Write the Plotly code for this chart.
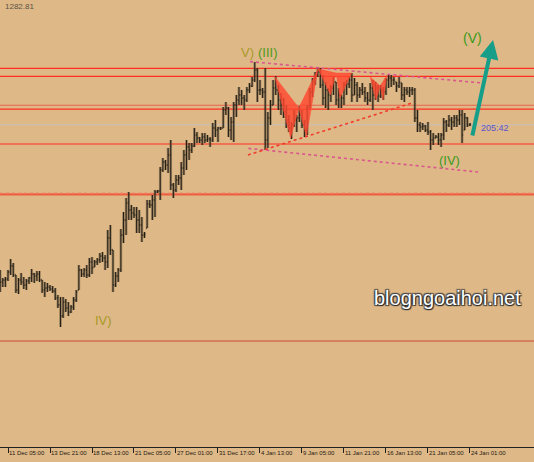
import plotly.graph_objects as go

# ---------------- data (XAUUSD H4) ----------------
highs = [
    1246.5, 1244.5, 1244.75, 1246.5, 1249.25, 1248.25, 1245.25, 1244.5, 1245.75, 1244.75,
    1244.25, 1244.75, 1246.75, 1245.75, 1246.25, 1246.25, 1244, 1243.5, 1243.25, 1242.75,
    1242.5, 1242, 1240.25, 1239.75, 1239.75, 1239.25, 1238.5, 1237.75, 1239.75, 1241.5,
    1247.75, 1246.75, 1247, 1247.75, 1249.5, 1249.75, 1249, 1249.5, 1250.75, 1251,
    1250.25, 1256.5, 1257.75, 1251.5, 1246, 1247, 1256.75, 1261, 1264.5, 1266,
    1262.75, 1262.25, 1262.25, 1261.5, 1259.75, 1256, 1264, 1264, 1265.25, 1266.5,
    1266.5, 1272.25, 1274.5, 1274, 1277, 1279, 1268.25, 1270.25, 1270.25, 1273.5,
    1276.5, 1279, 1278.25, 1278.25, 1282, 1281, 1279.75, 1280.75, 1280.75, 1280.25,
    1279.75, 1283.25, 1284, 1282.25, 1282.25, 1287.25, 1288.5, 1287.25, 1284.75, 1288.5,
    1290.25, 1292.25, 1291.5, 1290.25, 1292.25, 1293.25, 1294.75, 1298.5, 1297, 1294,
    1292, 1297, 1286, 1289, 1294, 1295, 1292.75, 1290.75, 1289.5, 1287.75,
    1285.25, 1283.5, 1286.5, 1285.25, 1287.5, 1286.5, 1284, 1287.75, 1292, 1294.5,
    1296, 1297.25, 1297, 1295.25, 1293.5, 1292, 1292.75, 1294.75, 1293.5, 1292,
    1290.25, 1293.5, 1294, 1294.75, 1295.75, 1294.5, 1293.5, 1292.25, 1293.25, 1292.25,
    1291, 1293.25, 1294, 1293.5, 1292.75, 1292.75, 1292.25, 1294.5, 1295.25, 1295.25,
    1294.75, 1293.5, 1294.75, 1293.25, 1292.25, 1292.25, 1292.25, 1292.25, 1292, 1286.5,
    1283.5, 1283.25, 1282.75, 1283.5, 1281.5, 1280.75, 1280.25, 1280.75, 1280.75, 1284.5,
    1284, 1285.25, 1284.75, 1285.25, 1285.25, 1286.5, 1286.5, 1285.75, 1284.75, 1283.25,
]
lows = [
    1241, 1242.25, 1242.25, 1243.75, 1245.25, 1244.75, 1240.75, 1240.5, 1242.75, 1241.75,
    1241.5, 1243, 1243.5, 1243.25, 1243.75, 1243.5, 1240.75, 1239.75, 1241, 1241.25,
    1240.75, 1239, 1237, 1232.25, 1234.5, 1236, 1235, 1235.75, 1236.5, 1238.5,
    1241.5, 1244.75, 1244.75, 1244.5, 1244.75, 1245.5, 1247.25, 1247.75, 1248.25, 1248.5,
    1246.5, 1247, 1250.25, 1241, 1242.25, 1243.5, 1246, 1253.25, 1255.25, 1259,
    1259, 1259.5, 1255.75, 1255.75, 1253.5, 1254.5, 1257, 1262, 1259, 1259.75,
    1265.75, 1264, 1271, 1271.5, 1270.75, 1266.5, 1264.5, 1266, 1267.75, 1266.5,
    1270.25, 1271.5, 1274, 1275.75, 1277.25, 1278.25, 1278.25, 1277.75, 1278.25, 1278.5,
    1277.25, 1278.5, 1279.75, 1278.5, 1281.5, 1282, 1285.25, 1279.75, 1279, 1278.5,
    1284.75, 1287.75, 1287.75, 1286.5, 1288.5, 1290.75, 1292.25, 1293.5, 1288.5, 1290.25,
    1289.5, 1276.5, 1277, 1282.75, 1287.75, 1290.25, 1286.5, 1285.25, 1284.5, 1282,
    1281, 1279.25, 1282.25, 1281, 1283.5, 1282, 1279.75, 1280.25, 1287, 1289.75,
    1292.75, 1294.75, 1292, 1287.75, 1287, 1286.5, 1288.5, 1290.25, 1287.75, 1287,
    1287, 1287.75, 1290.25, 1292, 1288.5, 1290.25, 1288.5, 1289.5, 1290.25, 1288.5,
    1287.75, 1288.5, 1286.5, 1289, 1288.5, 1289.5, 1289, 1290.25, 1292, 1292.25,
    1292.75, 1291, 1292, 1289, 1288.5, 1290.25, 1289.75, 1290.25, 1283.5, 1281,
    1281, 1281.5, 1281, 1280.25, 1276.5, 1277.75, 1279.5, 1277.75, 1277.25, 1279,
    1281, 1282.25, 1281.5, 1282.25, 1282.25, 1282.75, 1278.25, 1281.5, 1282.25, 1282.5,
]
closes = [
    1243.5, 1244, 1244.25, 1246, 1247.5, 1245.25, 1241.5, 1244, 1243.5, 1242.75,
    1243.75, 1244.5, 1245.5, 1245, 1245.5, 1244, 1241.5, 1242, 1242.25, 1241.75,
    1241.25, 1239.5, 1237.75, 1235, 1238.5, 1237, 1236, 1237.25, 1239, 1241,
    1246.5, 1245.5, 1246.5, 1245.25, 1248.5, 1247, 1248.5, 1249, 1250, 1249.5,
    1248.5, 1254.5, 1251.5, 1242.75, 1245, 1246.5, 1255.25, 1259, 1263.25, 1261.5,
    1260.75, 1260.25, 1259, 1257.75, 1255.25, 1255.5, 1263, 1262.75, 1264, 1266,
    1266.25, 1271.5, 1273.5, 1272.75, 1275.25, 1267.75, 1266.5, 1269, 1269.5, 1272,
    1275.25, 1277.25, 1276.5, 1277.5, 1280.25, 1279.5, 1279, 1279.75, 1279, 1279.25,
    1279, 1282, 1281.5, 1282, 1282, 1286.5, 1287, 1281.5, 1283.5, 1287.75,
    1289, 1290.25, 1289.5, 1289, 1291.5, 1292.5, 1294, 1296.5, 1291.5, 1291.5,
    1291, 1279, 1284.5, 1287.75, 1292, 1291.5, 1289, 1287.75, 1286, 1284,
    1282, 1282.75, 1284, 1284.5, 1285.25, 1282.75, 1281.5, 1287, 1291, 1293.5,
    1295.25, 1296, 1292.75, 1289.5, 1291.5, 1290.25, 1292, 1293.5, 1289, 1290.25,
    1289.5, 1292.75, 1293, 1294, 1290.25, 1292.75, 1290.25, 1291.5, 1291, 1289.5,
    1289, 1292, 1290.25, 1292, 1290, 1291.5, 1291, 1294, 1294.5, 1294,
    1294, 1292.5, 1293.5, 1290.25, 1291.5, 1291, 1291.5, 1291.5, 1284.5, 1282.75,
    1282.25, 1282.5, 1281.5, 1281, 1279, 1279.5, 1279.75, 1279, 1280.25, 1283.5,
    1282.75, 1284, 1283.5, 1284.5, 1284, 1285.25, 1280.25, 1284.5, 1282.75, 1282.81,
]
first_open = 1244.0

tick_bars = [3, 19, 35, 51, 67, 83, 99, 115, 131, 147, 163, 179]
tick_labels = ["11 Dec 05:00", "13 Dec 21:00", "18 Dec 13:00", "21 Dec 05:00",
               "27 Dec 01:00", "31 Dec 17:00", "4 Jan 13:00", "9 Jan 05:00",
               "11 Jan 21:00", "16 Jan 13:00", "21 Jan 05:00", "24 Jan 01:00"]

bid_price = 1282.81
red_levels = [1296.9, 1294.9, 1286.7, 1278.0]
light_red_level = 1287.7
thick_level = 1265.4
low_level = 1228.75

# trend lines: (bar, price) pairs
upper_channel = [(95.2, 1298.6), (183.6, 1293.25)]
lower_channel = [(94.6, 1276.9), (182.1, 1271.0)]
rising_line = [(94.4, 1275.25), (156.9, 1288.25)]

# harmonic patterns: X, A, B, C, D points (bar, price)
patterns = [
    [(104.6, 1294.9), (110.7, 1279.5), (113.8, 1287.0), (116.7, 1279.9), (121.1, 1296.8)],
    [(121.1, 1296.8), (125.9, 1290.25), (128.0, 1295.75), (129.5, 1289.5), (133.9, 1295.75)],
    [(141.0, 1294.75), (143.2, 1289.0), (144.8, 1292.5), (145.9, 1289.0), (147.4, 1295.25)],
]

# wave arrow (tail -> tip)
arrow_tail = (179.8, 1279.75)
arrow_tip = (187.8, 1304.0)

# ---------------- figure ----------------
bars = list(range(len(closes)))
opens = [first_open] + [min(max(closes[i - 1], lows[i]), highs[i]) for i in range(1, len(closes))]

fig = go.Figure()

# harmonic pattern triangles
for p in patterns:
    X, A, B, C, D = p
    for tri in ([X, A, B], [B, C, D]):
        fig.add_trace(go.Scatter(
            x=[q[0] for q in tri] + [tri[0][0]],
            y=[q[1] for q in tri] + [tri[0][1]],
            mode="lines", fill="toself",
            fillcolor="rgba(255,72,48,0.82)",
            line=dict(color="rgba(255,72,48,0.9)", width=0.5),
            hoverinfo="skip", showlegend=False))

# bar shadow + bars
fig.add_trace(go.Ohlc(
    x=bars, open=opens, high=highs, low=lows, close=closes,
    increasing=dict(line=dict(color="rgba(100,86,62,0.55)", width=2.6)),
    decreasing=dict(line=dict(color="rgba(100,86,62,0.55)", width=2.6)),
    tickwidth=0.45, showlegend=False, hoverinfo="skip"))
fig.add_trace(go.Ohlc(
    x=bars, open=opens, high=highs, low=lows, close=closes,
    increasing=dict(line=dict(color="#241e14", width=1)),
    decreasing=dict(line=dict(color="#241e14", width=1)),
    tickwidth=0.4, showlegend=False))

shapes = []
x0, x1 = -0.05, 203.4
for lv in red_levels:
    shapes.append(dict(type="line", xref="x", yref="y", x0=x0, x1=x1, y0=lv, y1=lv,
                       line=dict(color="#ff2e1e", width=1.2), layer="below"))
shapes.append(dict(type="line", xref="x", yref="y", x0=x0, x1=x1, y0=light_red_level, y1=light_red_level,
                   line=dict(color="#e8644c", width=1.1), layer="below"))
shapes.append(dict(type="line", xref="x", yref="y", x0=x0, x1=x1, y0=thick_level, y1=thick_level,
                   line=dict(color="#ef5e40", width=2.2), layer="below"))
shapes.append(dict(type="line", xref="x", yref="y", x0=x0, x1=x1, y0=thick_level + 0.35, y1=thick_level + 0.35,
                   line=dict(color="#f08868", width=1, dash="dot"), layer="below"))
shapes.append(dict(type="line", xref="x", yref="y", x0=x0, x1=x1, y0=low_level, y1=low_level,
                   line=dict(color="#cc4a30", width=1), layer="below"))
shapes.append(dict(type="line", xref="x", yref="y", x0=x0, x1=x1, y0=bid_price, y1=bid_price,
                   line=dict(color="#c9c2b8", width=1), layer="below"))
for ln, col, dash in ((upper_channel, "#d9578c", "dot"), (lower_channel, "#d9578c", "dot"),
                      (rising_line, "#f23c2c", "dot")):
    shapes.append(dict(type="line", xref="x", yref="y",
                       x0=ln[0][0], y0=ln[0][1], x1=ln[1][0], y1=ln[1][1],
                       line=dict(color=col, width=1.6, dash=dash)))

annotations = [
    dict(x=arrow_tip[0], y=arrow_tip[1], ax=arrow_tail[0], ay=arrow_tail[1],
         xref="x", yref="y", axref="x", ayref="y", text="", showarrow=True,
         arrowhead=2, arrowsize=0.95, arrowwidth=4, arrowcolor="#169e88", standoff=0),
    dict(x=94.2, y=1301.0, text="V)", showarrow=False,
         font=dict(family="Liberation Sans, Arial", size=13, color="#a89a28")),
    dict(x=102.0, y=1301.0, text="(III)", showarrow=False,
         font=dict(family="Liberation Sans, Arial", size=13, color="#4f9a1e")),
    dict(x=39.3, y=1234.0, text="IV)", showarrow=False,
         font=dict(family="Liberation Sans, Arial", size=13, color="#a89a28")),
    dict(x=179.8, y=1304.5, text="(V)", showarrow=False,
         font=dict(family="Liberation Sans, Arial", size=14, color="#3c9a1c")),
    dict(x=171.2, y=1274.0, text="(IV)", showarrow=False,
         font=dict(family="Liberation Sans, Arial", size=13, color="#3c9a1c")),
    dict(x=182.6, y=1282.0, text="205:42", showarrow=False, xanchor="left",
         font=dict(family="Liberation Sans, Arial", size=9, color="#5a55d0")),
    dict(x=170.6, y=1239.5, text="blogngoaihoi.net", showarrow=False,
         font=dict(family="Liberation Sans, Arial", size=20, color="#ffffff",
                   shadow="1px 1px 1px #222, -1px -1px 1px #444, 1px -1px 1px #444, -1px 1px 1px #444")),
    dict(x=0.005, y=1.0, xref="paper", yref="paper", text=f"{bid_price:.2f}", showarrow=False,
         xanchor="left", yanchor="top",
         font=dict(family="Liberation Sans, Arial", size=8, color="#5a5248")),
]

fig.update_layout(
    width=534, height=462,
    margin=dict(l=0, r=0, t=0, b=15, autoexpand=False),
    paper_bgcolor="#deb887", plot_bgcolor="#deb887",
    showlegend=False, shapes=shapes, annotations=annotations,
    xaxis=dict(range=[x0, x1], showgrid=False, zeroline=False, rangeslider=dict(visible=False),
               tickmode="array", tickvals=tick_bars, ticktext=tick_labels, tickangle=0,
               ticks="outside", ticklen=5, tickcolor="#222", tickwidth=1,
               ticklabelposition="outside right", automargin=False,
               tickfont=dict(family="Liberation Sans, Arial", size=6, color="#1e1a12"),
               showline=True, linecolor="#222", linewidth=1),
    yaxis=dict(range=[1202.25, 1314.0], showgrid=False, zeroline=False, showticklabels=False,
               showline=False, ticks="", automargin=False),
)

fig.write_html(
    "out.html",
    config={"displayModeBar": False},
    post_script="document.body.style.margin='0';document.body.style.overflow='hidden';"
                "document.documentElement.style.overflow='hidden';",
)
